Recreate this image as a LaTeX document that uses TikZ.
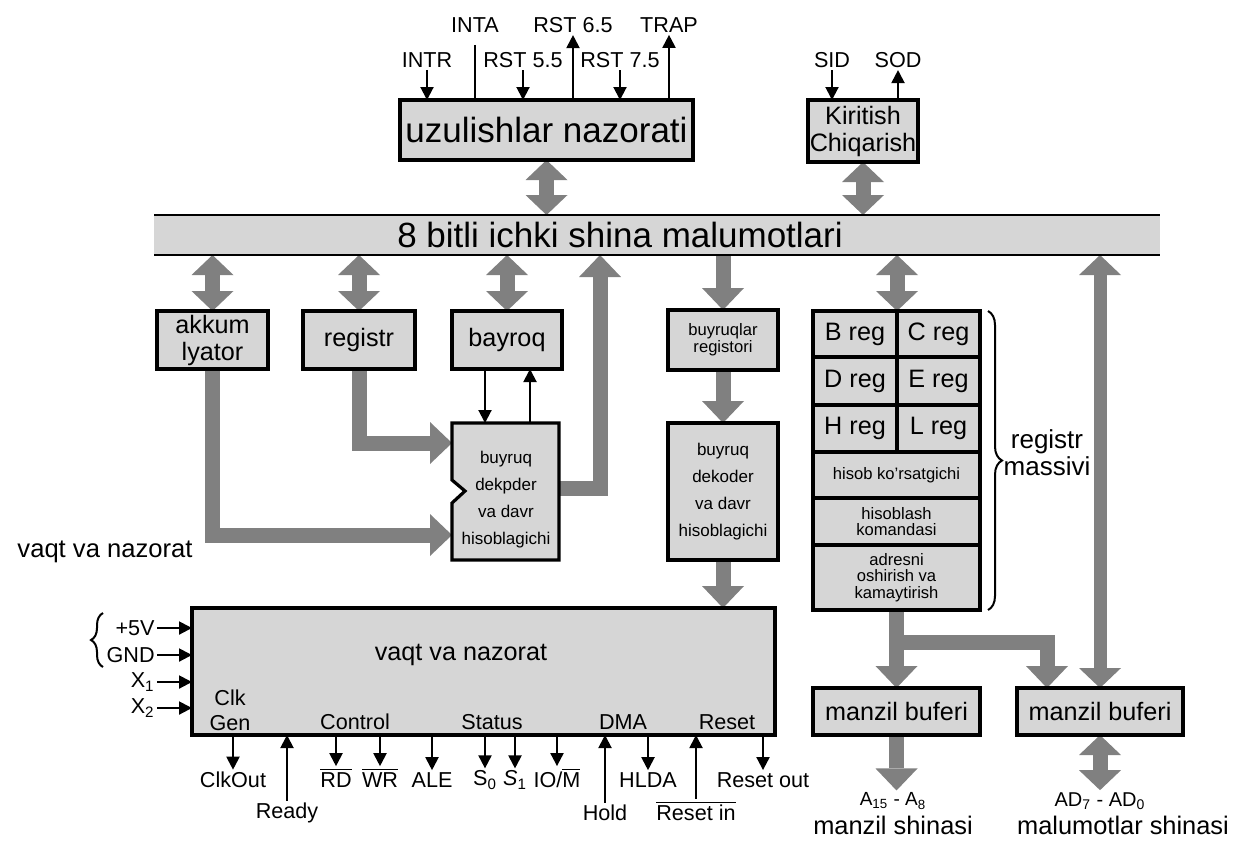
\documentclass[tikz,border=0pt]{standalone}
\usepackage{fontspec}
\setmainfont{Liberation Sans}
\usetikzlibrary{arrows.meta,fit,calc,decorations.pathreplacing}
\definecolor{boxgray}{RGB}{214,214,214}
\definecolor{argray}{RGB}{128,128,128}
\pgfdeclarelayer{bg}
\pgfsetlayers{bg,main}
\tikzset{
 box/.style={draw=black, line width=1.6pt, fill=boxgray, inner sep=0pt, outer sep=0pt},
 fbig/.style={font=\fontsize{17.5}{20}\selectfont},
 fmid/.style={font=\fontsize{12.6}{13.5}\selectfont},
 fsmall/.style={font=\fontsize{8.5}{13.5}\selectfont},
 ftiny/.style={font=\fontsize{8.3}{8.4}\selectfont},
 fsig/.style={font=\fontsize{10.8}{12.5}\selectfont},
 lbl/.style={inner sep=1pt, fsig},
 sig/.style={draw=black, line width=1pt, -{Triangle[width=6.5pt,length=6.5pt]}},
 sigline/.style={draw=black, line width=1pt},
 fat/.style={draw=argray, line width=7.5pt, line join=miter, -{Triangle[width=21pt,length=11pt,line width=0pt]}},
 fatd/.style={draw=argray, line width=7.5pt, {Triangle[width=21pt,length=10pt,line width=0pt]}-{Triangle[width=21pt,length=10pt,line width=0pt]}},
}
% \mybox{name}{corner}{corner}{font style}{text}
\newcommand\mybox[5]{%
  \node[box,fit={#2 #3}] (#1) {};
  \node[#4,align=center,inner sep=0pt] (#1t) at (#1.center) {#5};}
\begin{document}
\begin{tikzpicture}[x=0.5pt,y=-0.5pt]
\useasboundingbox (0,0) rectangle (1234,843);

% ---- interrupt control ----
\mybox{uz}{(400,100)}{(693,160)}{fbig}{uzulishlar nazorati}
\node[lbl] (intr) at (427,60) {INTR};
\node[lbl] (inta) at (475,25) {INTA};
\node[lbl] (r55) at (523,60) {RST 5.5};
\node[lbl] (r65) at (573,25) {RST 6.5};
\node[lbl] (r75) at (620,60) {RST 7.5};
\node[lbl] (trap) at (669,25) {TRAP};
\draw[sig] (intr.south) -- (intr.south |- uz.north);
\draw[sigline, shorten <=5pt] (inta.south) -- (inta.south |- uz.north);
\draw[sig] (r55.south) -- (r55.south |- uz.north);
\draw[sig] (r65.south |- uz.north) -- (r65.south);
\draw[sig] (r75.south) -- (r75.south |- uz.north);
\draw[sig] (trap.south |- uz.north) -- (trap.south);

% ---- serial I/O ----
\mybox{kc}{(808,100)}{(918,162)}{fmid}{Kiritish\\Chiqarish}
\node[lbl] (sid) at (832,60) {SID};
\node[lbl] (sod) at (898,60) {SOD};
\draw[sig] (sid.south) -- (sid.south |- kc.north);
\draw[sig] (sod.south |- kc.north) -- (sod.south);

% ---- internal bus ----
\node[fill=boxgray, inner sep=0pt, outer sep=0pt, fit={(154,215)(1160,255)}] (bus) {};
\draw[line width=1.3pt] (bus.north west) -- (bus.north east) (bus.south west) -- (bus.south east);
\node[fbig] (busl) at (620,235) {8 bitli ichki shina malumotlari};

% ---- left blocks ----
\mybox{ak}{(157,311)}{(268,369)}{fmid}{akkum\\lyator}
\mybox{rg}{(303,311)}{(415,369)}{fmid}{registr}
\mybox{bay}{(452,311)}{(562,369)}{fmid}{bayroq}

\draw[line width=1.6pt, fill=boxgray] (452,423) -- (559,423) -- (559,560) -- (452,560) -- (452,503) -- (465,491) -- (452,480) -- cycle;
\node[inner sep=0pt, outer sep=0pt, fit={(452,423)(559,560)}] (dec1) {};
\node[fsmall, align=center, inner sep=0pt] (dec1t) at (506,500) {buyruq\\dekpder\\va davr\\hisoblagichi};

\coordinate (t1) at ($(bay.south)+(-22,0)$);
\coordinate (t2) at ($(bay.south)+(23,0)$);
\draw[sig] (t1) -- (t1 |- dec1.north);
\draw[sig] (t2 |- dec1.north) -- (t2);

% ---- instruction register / decoder ----
\mybox{br}{(668,310)}{(778,370)}{ftiny}{buyruqlar\\registori}
\mybox{dec2}{(668,423)}{(778,560)}{fsmall}{buyruq\\dekoder\\va davr\\hisoblagichi}

% ---- register array ----
\mybox{rB}{(813,311)}{(897,357)}{fmid}{B reg}
\mybox{rC}{(897,311)}{(980,357)}{fmid}{C reg}
\mybox{rD}{(813,357)}{(897,405)}{fmid}{D reg}
\mybox{rE}{(897,357)}{(980,405)}{fmid}{E reg}
\mybox{rH}{(813,405)}{(897,452)}{fmid}{H reg}
\mybox{rL}{(897,405)}{(980,452)}{fmid}{L reg}
\mybox{rhk}{(813,452)}{(980,498)}{ftiny}{hisob ko'rsatgichi}
\mybox{rhkom}{(813,498)}{(980,545)}{ftiny}{hisoblash\\komandasi}
\mybox{radr}{(813,545)}{(980,610)}{ftiny}{adresni\\oshirish va\\kamaytirish}
\draw[line width=1pt, decorate, decoration={brace, amplitude=7pt}] (988,311) -- (988,610);
\node[align=center, font=\fontsize{13}{13.5}\selectfont, inner sep=0pt] (rm) at (1047,453) {registr\\massivi};

% ---- timing and control ----
\node[box,fit={(192,608)(775,735)}] (tc) {};
\node[fmid] (tct) at (461,655) {vaqt va nazorat};
\node[fsig, align=center, inner sep=0pt] (clk) at (230,710) {Clk\\Gen};
\node[fsig, inner sep=0pt] (ctl) at (355,722) {Control};
\node[fsig, inner sep=0pt] (sts) at (492,722) {Status};
\node[fsig, inner sep=0pt] (dma) at (623,722) {DMA};
\node[fsig, inner sep=0pt] (rst) at (727,722) {Reset};
\node[font=\fontsize{12.8}{13}\selectfont] (vnl) at (105,552) {vaqt va nazorat};

\node[lbl,anchor=east] (p5) at (157,628) {+5V};
\node[lbl,anchor=east] (gnd) at (157,655) {GND};
\node[lbl,anchor=east] (x1) at (157,682) {X\textsubscript{1}};
\node[lbl,anchor=east] (x2) at (157,708) {X\textsubscript{2}};
\draw[sig] (p5.east) -- (p5.east -| tc.west);
\draw[sig] (gnd.east) -- (gnd.east -| tc.west);
\draw[sig] (x1.east) -- (x1.east -| tc.west);
\draw[sig] (x2.east) -- (x2.east -| tc.west);
\draw[line width=1pt, decorate, decoration={brace, amplitude=6pt}] (103,667) -- (103,613);

\node[lbl] (clkout) at (233,780) {ClkOut};
\node[lbl] (ready) at (287,813) {Ready};
\node[lbl] (rd) at (336,778) {$\overline{\mbox{RD}}$};
\node[lbl] (wr) at (380,778) {$\overline{\mbox{WR}}$};
\node[lbl] (ale) at (432,780) {ALE};
\node[lbl] (s0) at (485,780) {S\textsubscript{0}};
\node[lbl] (s1) at (515,780) {\textit{S}\textsubscript{1}};
\node[lbl] (iom) at (557,778) {IO/$\overline{\mbox{M}}$};
\node[lbl] (hold) at (605,813) {Hold};
\node[lbl] (hlda) at (648,780) {HLDA};
\node[lbl] (rstin) at (696,811) {$\overline{\mbox{Reset in}}$};
\node[lbl] (rstout) at (763,780) {Reset out};
\draw[sig] (clkout.north |- tc.south) -- (clkout.north);
\draw[sig] (ready.north) -- (ready.north |- tc.south);
\draw[sig] (rd.north |- tc.south) -- (rd.north);
\draw[sig] (wr.north |- tc.south) -- (wr.north);
\draw[sig] (ale.north |- tc.south) -- (ale.north);
\draw[sig] (s0.north |- tc.south) -- (s0.north);
\draw[sig] (s1.north |- tc.south) -- (s1.north);
\draw[sig] (iom.north |- tc.south) -- (iom.north);
\draw[sig] (hold.north) -- (hold.north |- tc.south);
\draw[sig] (hlda.north |- tc.south) -- (hlda.north);
\draw[sig] (rstin.north) -- (rstin.north |- tc.south);
\draw[sig] (rstout.north |- tc.south) -- (rstout.north);

% ---- address / data buffers ----
\mybox{mb1}{(813,688)}{(980,735)}{fmid}{manzil buferi}
\mybox{mb2}{(1017,688)}{(1183,735)}{fmid}{manzil buferi}
\node[font=\fontsize{9.5}{10}\selectfont, inner sep=1pt] (a15) at (893,801) {A\textsubscript{15} - A\textsubscript{8}};
\node[font=\fontsize{10}{11}\selectfont, inner sep=1pt] (ad7) at (1100,801) {AD\textsubscript{7} - AD\textsubscript{0}};
\node[font=\fontsize{12.7}{13}\selectfont] (ms) at (893,825) {manzil shinasi};
\node[font=\fontsize{12.7}{13}\selectfont] (mls) at (1123,825) {malumotlar shinasi};

\coordinate (brk) at (896.5,642);
\coordinate (mb2in) at (1047,688);
\coordinate (akin) at (452,535);
\coordinate (rgin) at (452,443);
\coordinate (d1out) at (559,488);
\coordinate (busin) at (600,255);

\begin{pgfonlayer}{bg}
\draw[fatd] (uz.south) -- (uz.south |- bus.north);
\draw[fatd] (kc.south) -- (kc.south |- bus.north);
\draw[fatd] (ak.north |- bus.south) -- (ak.north);
\draw[fatd] (rg.north |- bus.south) -- (rg.north);
\draw[fatd] (bay.north |- bus.south) -- (bay.north);
\draw[fat] (br.north |- bus.south) -- (br.north);
\draw[fat] (br.south) -- (dec2.north);
\draw[fat] (dec2.south) -- (dec2.south |- tc.north);
\draw[fatd] (rB.north east |- bus.south) -- (rB.north east);
\draw[fatd, line width=6.5pt] (mb2.north |- bus.south) -- (mb2.north);
\draw[fat] (radr.south) -- (mb1.north);
\draw[fat] (brk) -| (mb2in);
\draw[fat] (ak.south) |- (akin);
\draw[fat] (rg.south) |- (rgin);
\draw[fat] (d1out) -| (busin);
\draw[fat] (mb1.south) -- (mb1.south |- a15.north);
\draw[fatd] (mb2.south) -- (mb2.south |- ad7.north);
\end{pgfonlayer}
\end{tikzpicture}
\end{document}
